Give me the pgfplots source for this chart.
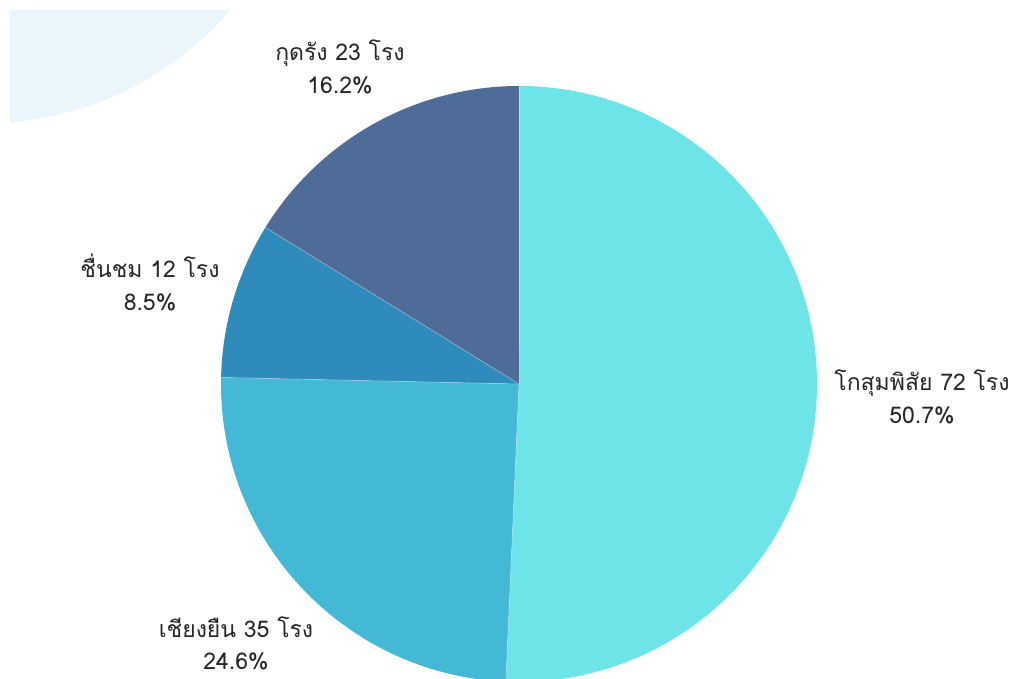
\documentclass[border=0pt]{standalone}
\usepackage{pgfplots}
\usepackage{pgfplotstable}
\usepackage{fontspec}
\pgfplotsset{compat=1.18}
\newfontfamily\thaifont[Script=Thai]{Loma}

\definecolor{cKosum}{HTML}{6DE4E8}
\definecolor{cChiang}{HTML}{43B9D6}
\definecolor{cChuen}{HTML}{2E8BBB}
\definecolor{cKud}{HTML}{4F6C98}
\definecolor{bgblue}{HTML}{EAF5FC}
\definecolor{txt}{HTML}{262626}

% number of factories per district
\pgfplotstableread{
value
72
35
12
23
}\piedata

\pgfplotstablegetelem{0}{value}\of\piedata \let\va\pgfplotsretval
\pgfplotstablegetelem{1}{value}\of\piedata \let\vb\pgfplotsretval
\pgfplotstablegetelem{2}{value}\of\piedata \let\vc\pgfplotsretval
\pgfplotstablegetelem{3}{value}\of\piedata \let\vd\pgfplotsretval
\pgfmathsetmacro\tot{\va+\vb+\vc+\vd}
% slice angles, clockwise from the top
\pgfmathsetmacro\aA{90}
\pgfmathsetmacro\aB{\aA-360*(\va/\tot)}
\pgfmathsetmacro\aC{\aB-360*(\vb/\tot)}
\pgfmathsetmacro\aD{\aC-360*(\vc/\tot)}
\pgfmathsetmacro\aE{\aD-360*(\vd/\tot)}
\def\pcx{519}\def\pcy{294}\def\prad{298pt}

\begin{document}
\begin{tikzpicture}
\useasboundingbox (0,0) rectangle (1017pt,678pt);
\begin{axis}[
  at={(0,0)}, anchor=south west,
  x=1pt, y=1pt,
  xmin=0, xmax=1017, ymin=0, ymax=678,
  hide axis,
  clip=true,
]
  \addplot[draw=none] coordinates {(0,0) (1017,678)};

  % faint decoration top left
  \fill[bgblue] (axis cs:-15,877) circle[radius=322pt];
  \fill[white] (axis cs:0,668) rectangle (axis cs:1017,678);
  \fill[white] (axis cs:0,0) rectangle (axis cs:10,678);

  \fill[cKosum]  (axis cs:\pcx,\pcy) -- ++(\aA:\prad) arc[start angle=\aA, end angle=\aB, radius=\prad] -- cycle;
  \fill[cChiang] (axis cs:\pcx,\pcy) -- ++(\aB:\prad) arc[start angle=\aB, end angle=\aC, radius=\prad] -- cycle;
  \fill[cChuen]  (axis cs:\pcx,\pcy) -- ++(\aC:\prad) arc[start angle=\aC, end angle=\aD, radius=\prad] -- cycle;
  \fill[cKud]    (axis cs:\pcx,\pcy) -- ++(\aD:\prad) arc[start angle=\aD, end angle=\aE, radius=\prad] -- cycle;
  \draw[white, opacity=0.3, line width=0.8pt] (axis cs:\pcx,\pcy) -- ++(\aB:\prad);
  \draw[white, opacity=0.3, line width=0.8pt] (axis cs:\pcx,\pcy) -- ++(\aC:\prad);
  \draw[white, opacity=0.3, line width=0.8pt] (axis cs:\pcx,\pcy) -- ++(\aD:\prad);
  \draw[white, opacity=0.3, line width=0.8pt] (axis cs:\pcx,\pcy) -- ++(\aA:\prad);

  \node[align=center, text=txt, font=\thaifont\fontsize{23}{33}\selectfont] at (axis cs:340,611) {กุดรัง 23 โรง\\16.2\%};
  \node[align=center, text=txt, font=\thaifont\fontsize{23}{33}\selectfont] at (axis cs:150,396) {ชื่นชม 12 โรง\\8.5\%};
  \node[align=center, text=txt, font=\thaifont\fontsize{23}{33}\selectfont] at (axis cs:922,281) {โกสุมพิสัย 72 โรง\\50.7\%};
  \node[align=center, text=txt, inner sep=0pt, font=\thaifont\fontsize{23}{32}\selectfont] at (axis cs:236,35) {เชียงยืน 35 โรง\\24.6\%};
\end{axis}
\end{tikzpicture}
\end{document}
